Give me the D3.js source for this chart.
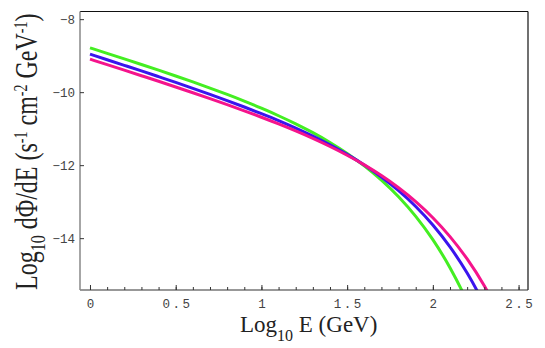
<!DOCTYPE html>
<html><head><meta charset="utf-8">
<script src="https://cdn.jsdelivr.net/npm/d3@7/dist/d3.min.js"></script>
<style>body{margin:0;background:#fff}svg{display:block}</style>
</head><body>
<svg id="c" width="545" height="348"></svg>
<script>
const logE = [0,0.1,0.2,0.3,0.4,0.5,0.6,0.7,0.8,0.9,1.0,1.1,1.2,1.3,1.4,1.5,1.6,1.7,1.8,1.9,2.0,2.1,2.2,2.3,2.4];
const greenVals = [-8.786,-8.936,-9.088,-9.241,-9.397,-9.557,-9.720,-9.889,-10.063,-10.246,-10.440,-10.646,-10.868,-11.110,-11.378,-11.678,-12.019,-12.411,-12.867,-13.404,-14.042,-14.809,-15.737,-16.868,-18.2];
const blueVals = [-8.959,-9.111,-9.264,-9.418,-9.575,-9.733,-9.895,-10.060,-10.230,-10.406,-10.590,-10.782,-10.987,-11.206,-11.444,-11.705,-11.995,-12.323,-12.698,-13.131,-13.639,-14.239,-14.957,-15.823,-16.875];
const magentaVals = [-9.096,-9.246,-9.397,-9.549,-9.702,-9.858,-10.016,-10.177,-10.342,-10.511,-10.687,-10.870,-11.063,-11.268,-11.488,-11.728,-11.991,-12.285,-12.618,-12.998,-13.439,-13.957,-14.570,-15.305,-16.192];
const xTicks = [0,0.5,1,1.5,2,2.5];
const xTickLabels = ["0","0.5","1","1.5","2","2.5"];
const xMinor = d3.range(0,26).map(i=>i/10);
const yTicks = [-8,-10,-12,-14];
const yTickLabels = ["\u22128","\u221210","\u221212","\u221214"];
const series = [
  {name:"green", color:"#44ee22", values:greenVals},
  {name:"blue", color:"#3a14ee", values:blueVals},
  {name:"magenta", color:"#f5148c", values:magentaVals}
];

const L=80, R=528, T=11.5, B=290;
const svg = d3.select("#c");
const x = d3.scaleLinear().domain([-0.0583,2.555]).range([L,R]);
const y = d3.scaleLinear().domain([-7.79,-15.42]).range([T,B]);

svg.append("clipPath").attr("id","clip").append("rect")
  .attr("x",L).attr("y",T).attr("width",R-L).attr("height",B-T);

const line = d3.line().x((d,i)=>x(logE[i])).y(d=>y(d)).curve(d3.curveMonotoneX);
const g = svg.append("g").attr("clip-path","url(#clip)");
series.forEach(s=>{
  g.append("path").attr("d",line(s.values)).attr("fill","none")
   .attr("stroke",s.color).attr("stroke-width",3).attr("stroke-linejoin","round");
});

// frame
svg.append("line").attr("x1",L).attr("x2",R).attr("y1",T).attr("y2",T).attr("stroke","#111").attr("stroke-width",1.2);
svg.append("line").attr("x1",R).attr("x2",R).attr("y1",T).attr("y2",B).attr("stroke","#111").attr("stroke-width",1.2);

// axes
const xAxisMinor = d3.axisBottom(x).tickValues(xMinor).tickSize(-3).tickFormat("");
const xa1 = svg.append("g").attr("transform",`translate(0,${B})`).call(xAxisMinor);
xa1.select(".domain").remove();
xa1.selectAll("line").attr("stroke","#333");
const xAxis = d3.axisBottom(x).tickValues(xTicks).tickSize(-5).tickPadding(9)
  .tickFormat((d,i)=>xTickLabels[i]);
const xa = svg.append("g").attr("transform",`translate(0,${B})`).call(xAxis);
xa.select(".domain").attr("d",`M${L},0H${R}`).attr("stroke","#333").attr("stroke-width",1.2);
xa.selectAll("line").attr("stroke","#333");
xa.selectAll("text").attr("font-family","'Liberation Mono', monospace").attr("font-size",12.5)
  .attr("fill","#444").attr("letter-spacing","2.5px").attr("dx","1.2");

const yAxis = d3.axisLeft(y).tickValues(yTicks).tickSize(-4).tickPadding(5)
  .tickFormat((d,i)=>yTickLabels[i]);
const ya = svg.append("g").attr("transform",`translate(${L},0)`).call(yAxis);
ya.select(".domain").attr("d",`M0,${T}V${B}`).attr("stroke","#888").attr("stroke-width",1.5);
ya.selectAll("line").attr("stroke","#333");
ya.selectAll("text").attr("font-family","'Liberation Mono', monospace").attr("font-size",12.5).attr("fill","#444");

// x title
const xt = svg.append("text").attr("x",240).attr("y",332)
  .attr("font-family","'Liberation Serif', serif").attr("font-size",23).attr("fill","#222");
xt.append("tspan").text("Log");
xt.append("tspan").attr("font-size",16).attr("dy",9).text("10");
xt.append("tspan").attr("dy",-9).text(" E (GeV)");

// y title
const yt = svg.append("text").attr("transform","translate(37,290) rotate(-90) scale(1,1.3)")
  .attr("font-family","'Liberation Serif', serif").attr("font-size",24).attr("fill","#222");
yt.append("tspan").text("Log");
yt.append("tspan").attr("font-size",16).attr("dy",6).text("10");
yt.append("tspan").attr("dy",-6).text(" d\u03A6/dE (s");
yt.append("tspan").attr("font-size",14).attr("dy",-8).text("-1");
yt.append("tspan").attr("dy",8).text(" cm");
yt.append("tspan").attr("font-size",14).attr("dy",-8).text("-2");
yt.append("tspan").attr("dy",8).text(" GeV");
yt.append("tspan").attr("font-size",14).attr("dy",-8).text("-1");
yt.append("tspan").attr("dy",8).text(")");
</script>
</body></html>
